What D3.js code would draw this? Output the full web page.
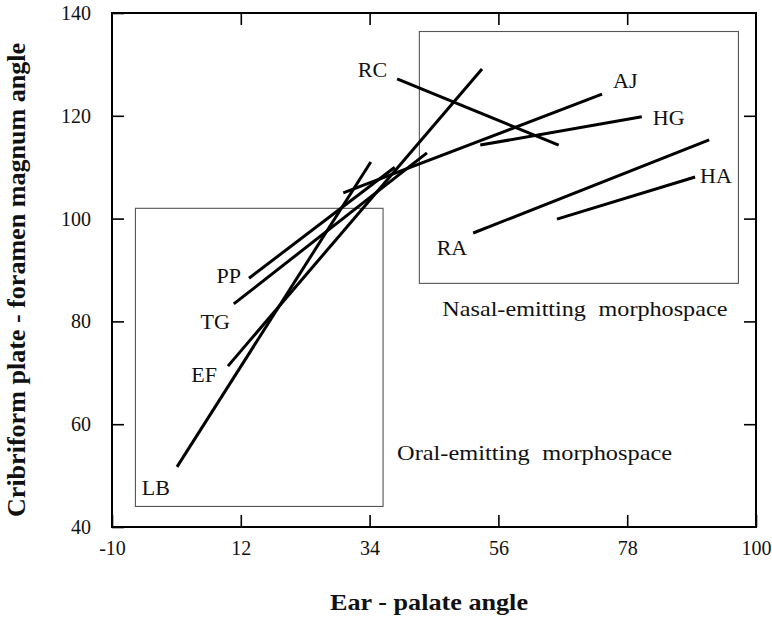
<!DOCTYPE html>
<html>
<head>
<meta charset="utf-8">
<script src="https://cdn.jsdelivr.net/npm/d3@7"></script>
<style>
  html, body { margin: 0; padding: 0; background: #fff; }
  svg text { font-family: "Liberation Serif", "Times New Roman", serif; fill: #111; }
</style>
</head>
<body>
<svg id="chart" width="772" height="619"></svg>
<script>
// Species codes, one per trajectory segment
const species = ["LB", "EF", "TG", "PP", "AJ", "RC", "HG", "RA", "HA"];
// Ear - palate angle at the two ends of each segment
const earStart = [1.1, 9.8, 10.8, 13.4, 29.5, 38.7, 52.9, 51.7, 66.0];
const earEnd   = [34.2, 53.2, 43.8, 38.3, 73.7, 66.3, 80.5, 92.0, 89.6];
// Cribriform plate - foramen magnum angle at the two ends
const cribStart = [51.7, 71.3, 83.4, 88.4, 105.0, 127.2, 114.3, 97.2, 99.9];
const cribEnd   = [111.0, 129.1, 112.8, 110.0, 124.2, 114.3, 119.8, 115.3, 108.1];
// Which end of the segment carries the species code
const labelEnd = ["start", "start", "start", "start", "end", "start", "end", "start", "end"];

// Morphospace regions in data units
const regionNames = ["Oral-emitting morphospace", "Nasal-emitting morphospace"];
const regionX0 = [-6.0, 42.5];
const regionX1 = [36.3, 97.0];
const regionY0 = [44.0, 87.4];
const regionY1 = [102.0, 136.4];

// Axis ticks
const xTicks = [-10, 12, 34, 56, 78, 100];
const yTicks = [40, 60, 80, 100, 120, 140];

const margin = { left: 112, top: 13, right: 16, bottom: 92 };
const W = 772, H = 619;
const iw = W - margin.left - margin.right;
const ih = H - margin.top - margin.bottom;

const svg = d3.select("#chart");
const g = svg.append("g").attr("transform", `translate(${margin.left},${margin.top})`);

const x = d3.scaleLinear().domain([-10, 100]).range([0, iw]);
const y = d3.scaleLinear().domain([40, 140]).range([ih, 0]);

// Morphospace boxes
const regions = regionNames.map((n, i) => ({ name: n, x0: regionX0[i], x1: regionX1[i], y0: regionY0[i], y1: regionY1[i] }));
g.selectAll("rect.region").data(regions).join("rect")
  .attr("class", "region")
  .attr("x", d => x(d.x0)).attr("y", d => y(d.y1))
  .attr("width", d => x(d.x1) - x(d.x0)).attr("height", d => y(d.y0) - y(d.y1))
  .attr("fill", "none").attr("stroke", "#555").attr("stroke-width", 1.1);

// Region captions: oral caption sits right of its box, nasal caption below its box
const captionStyle = [
  { dx: 14, dy: -46, len: 275 },
  { dx: 23, dy: 33, len: 285 }
];
g.selectAll("text.region-label").data(regions).join("text")
  .attr("class", "region-label")
  .attr("x", (d, i) => (i === 0 ? x(d.x1) : x(d.x0)) + captionStyle[i].dx)
  .attr("y", (d, i) => y(d.y0) + captionStyle[i].dy)
  .attr("font-size", 22)
  .attr("word-spacing", 6)
  .attr("textLength", (d, i) => captionStyle[i].len)
  .attr("lengthAdjust", "spacingAndGlyphs")
  .text(d => d.name);

// Segments
const segs = species.map((s, i) => ({
  code: s, x1: earStart[i], y1: cribStart[i], x2: earEnd[i], y2: cribEnd[i], end: labelEnd[i]
}));
g.selectAll("line.seg").data(segs).join("line")
  .attr("class", "seg")
  .attr("x1", d => x(d.x1)).attr("y1", d => y(d.y1))
  .attr("x2", d => x(d.x2)).attr("y2", d => y(d.y2))
  .attr("stroke", "#000").attr("stroke-width", 3).attr("stroke-linecap", "butt");

// Species code placement relative to the labelled end
const codeOffset = {
  LB: { dx: -7, dy: 28, anchor: "end" },
  EF: { dx: -11, dy: 16, anchor: "end" },
  TG: { dx: -4, dy: 25, anchor: "end" },
  PP: { dx: -8, dy: 5, anchor: "end" },
  AJ: { dx: 11, dy: -6, anchor: "start" },
  RC: { dx: -10, dy: -2, anchor: "end" },
  HG: { dx: 11, dy: 8, anchor: "start" },
  RA: { dx: -6, dy: 22, anchor: "end" },
  HA: { dx: 5, dy: 6, anchor: "start" }
};
g.selectAll("text.code").data(segs).join("text")
  .attr("class", "code")
  .attr("x", d => (d.end === "start" ? x(d.x1) : x(d.x2)) + codeOffset[d.code].dx)
  .attr("y", d => (d.end === "start" ? y(d.y1) : y(d.y2)) + codeOffset[d.code].dy)
  .attr("text-anchor", d => codeOffset[d.code].anchor)
  .attr("font-size", 22)
  .text(d => d.code);

// Axes with inward ticks on all four sides
const tickLen = 12;
const fmt = d => String(d);
const axBottom = g.append("g").attr("transform", `translate(0,${ih})`)
  .call(d3.axisBottom(x).tickValues(xTicks).tickSize(-tickLen).tickPadding(24).tickFormat(fmt));
const axTop = g.append("g")
  .call(d3.axisTop(x).tickValues(xTicks.slice(1, -1)).tickSize(-tickLen).tickFormat(""));
const axLeft = g.append("g")
  .call(d3.axisLeft(y).tickValues(yTicks).tickSize(-tickLen).tickPadding(21).tickFormat(fmt));
const axRight = g.append("g").attr("transform", `translate(${iw},0)`)
  .call(d3.axisRight(y).tickValues(yTicks.slice(1, -1)).tickSize(-tickLen).tickFormat(""));

[axBottom, axTop, axLeft, axRight].forEach(a => {
  a.select(".domain").remove();
  a.selectAll(".tick line").attr("stroke", "#000").attr("stroke-width", 1.6);
  a.selectAll(".tick text").attr("font-size", 20).attr("font-family", "Liberation Serif, serif").attr("fill", "#111");
});
axBottom.selectAll(".tick text").attr("dy", "0.2em");

// Plot frame
g.append("rect").attr("x", 0).attr("y", 0).attr("width", iw).attr("height", ih)
  .attr("fill", "none").attr("stroke", "#000").attr("stroke-width", 2);

// Axis titles
svg.append("text")
  .attr("x", 429).attr("y", 610)
  .attr("text-anchor", "middle").attr("font-size", 24).attr("font-weight", "bold")
  .attr("textLength", 198).attr("lengthAdjust", "spacingAndGlyphs")
  .text("Ear - palate angle");
svg.append("text")
  .attr("transform", "translate(25,280) rotate(-90)")
  .attr("text-anchor", "middle").attr("font-size", 25).attr("font-weight", "bold")
  .attr("textLength", 474).attr("lengthAdjust", "spacingAndGlyphs")
  .text("Cribriform plate - foramen magnum angle");
</script>
</body>
</html>
